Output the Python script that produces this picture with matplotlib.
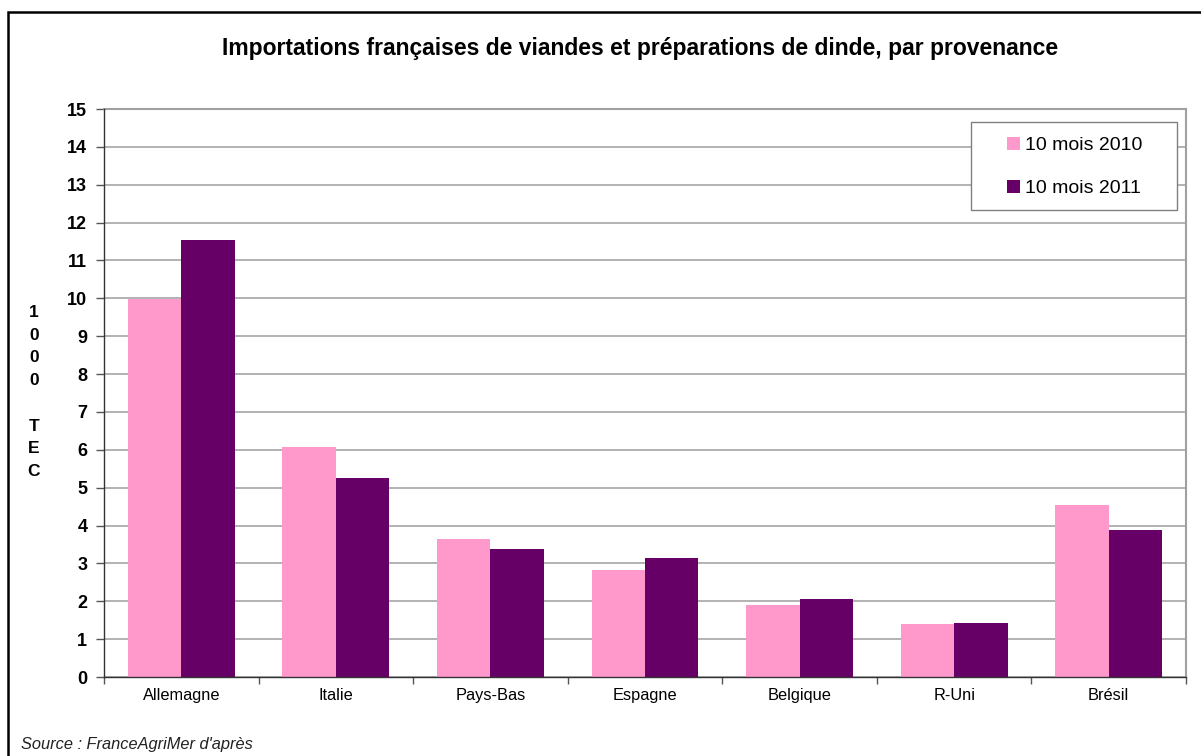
import numpy as np
import matplotlib.pyplot as plt
from matplotlib.patches import Rectangle

plt.rcParams['font.family'] = ['Liberation Sans', 'DejaVu Sans']

pays = ['Allemagne', 'Italie', 'Pays-Bas', 'Espagne', 'Belgique', 'R-Uni', 'Brésil']
val_2010 = [9.98, 6.07, 3.64, 2.83, 1.90, 1.40, 4.54]
val_2011 = [11.54, 5.25, 3.38, 3.14, 2.06, 1.43, 3.88]
series = ['10 mois 2010', '10 mois 2011']
couleurs = ['#ff99cc', '#660066']

W, H = 1201, 756
fig = plt.figure(figsize=(W / 100, H / 100), dpi=100)

# cadre noir autour du graphique
fig.patches.append(Rectangle((8 / W, -0.1), 1.2, (H - 12) / H + 0.1,
                             transform=fig.transFigure, fill=False,
                             edgecolor='black', linewidth=1.8))

ax = fig.add_axes([104 / W, (H - 677) / H, 1082 / W, 568 / H])

x = np.arange(len(pays))
w = 0.346
ax.bar(x - w / 2, val_2010, w, color=couleurs[0], label=series[0], zorder=3)
ax.bar(x + w / 2, val_2011, w, color=couleurs[1], label=series[1], zorder=3)

ax.set_xlim(-0.5, len(pays) - 0.5)
ax.set_ylim(0, 15)
ax.set_yticks(range(0, 16))
ax.set_yticklabels([str(i) for i in range(0, 16)], fontweight='bold', fontsize=13)
ax.set_xticks(x)
ax.set_xticklabels(pays, fontsize=11.8)
ax.set_xticks(np.arange(-0.5, len(pays)), minor=True)
ax.tick_params(axis='x', which='major', length=0, pad=8)
ax.tick_params(axis='x', which='minor', length=5, width=1, color='#555555')
ax.tick_params(axis='y', length=6, width=1, color='#555555', pad=6)

ax.grid(axis='y', color='#a6a6a6', linewidth=1.2, zorder=0)
for s in ['top', 'right']:
    ax.spines[s].set_color('#a0a0a0')
    ax.spines[s].set_linewidth(1.5)
for s in ['left', 'bottom']:
    ax.spines[s].set_color('#333333')
    ax.spines[s].set_linewidth(1)
    ax.spines[s].set_zorder(4)

# légende : cadre gris dessiné à part
fig.patches.append(Rectangle((971 / W, 1 - 210 / H), 206 / W, 88 / H,
                             transform=fig.transFigure, facecolor='white',
                             edgecolor='#808080', linewidth=1, zorder=5))
leg = fig.legend(loc='center left', bbox_to_anchor=(997 / W, 1 - 167 / H),
                 fontsize=14, frameon=False,
                 handlelength=0.7, handleheight=0.7, handletextpad=0.25,
                 labelspacing=1.3, borderpad=0)
leg.set_zorder(6)

fig.text(640 / W, 1 - 48 / H,
         'Importations françaises de viandes et préparations de dinde, par provenance',
         ha='center', va='center', fontsize=16.5, fontweight='bold')

fig.text(34 / W, 1 - 392 / H, '1\n0\n0\n0\n\nT\nE\nC', ha='center', va='center',
         fontsize=12.5, fontweight='bold', linespacing=1.64)

fig.text(21 / W, 1 - 745 / H, "Source : FranceAgriMer d'après",
         ha='left', va='center', fontsize=11.8, style='italic', color='#222222')

fig.savefig('out.png', dpi=100)
